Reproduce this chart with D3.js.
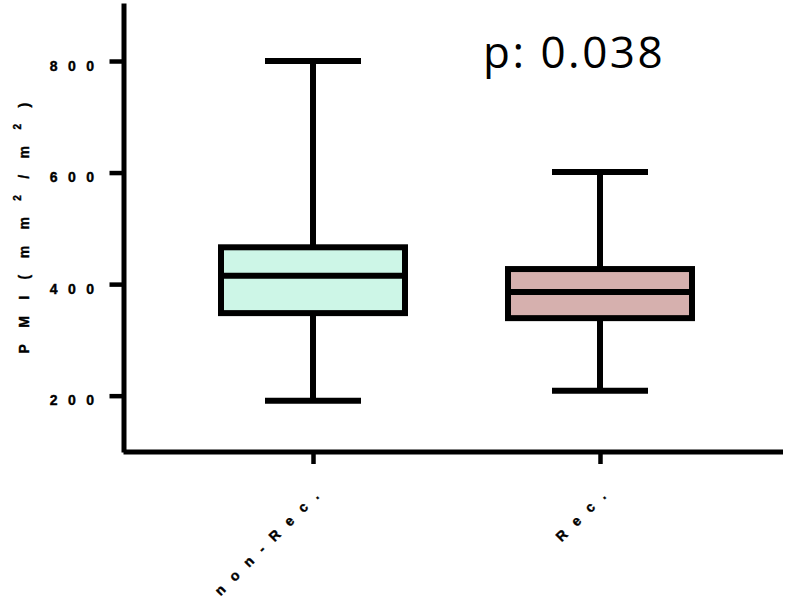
<!DOCTYPE html>
<html>
<head>
<meta charset="utf-8">
<script src="https://cdn.jsdelivr.net/npm/d3@7"></script>
<style>
  body { margin: 0; background: #fff; }
  svg { display: block; }
</style>
</head>
<body>
<div id="chart"></div>
<script>
// data
const groups = ["non-Rec.", "Rec."];
const mins = [191, 209];
const q1s = [348, 339];
const medians = [415, 386];
const q3s = [466, 427];
const maxs = [800, 601];
const fills = ["#cdf6e7", "#d6b0ae"];
const yTicks = [200, 400, 600, 800];
const pText = "p: 0.038";

let width = 797,
	height = 598;

let svg = d3.select("#chart").append("svg")
	.attr("width", width)
	.attr("height", height);

let yScale = d3.scaleLinear()
	.domain([99, 904])
	.range([452, 3]);

// category centres
let xScale = d3.scalePoint()
	.domain(groups)
	.range([313, 600]);

let axisX = 123.5, axisY = 452, axisEnd = 783;
let labelFont = "Liberation Sans, Arial, sans-serif";

// bold, widely spaced labels like the original export
function labelStyle(sel, spacing) {
	sel.attr("fill", "#000")
		.attr("stroke", "#000")
		.attr("stroke-width", 0.4)
		.style("font-family", labelFont)
		.style("font-weight", "bold")
		.style("font-size", "14px")
		.style("letter-spacing", spacing + "px");
}

// y axis
let yAxis = d3.axisLeft(yScale)
	.tickValues(yTicks)
	.tickSize(14)
	.tickSizeOuter(0)
	.tickPadding(5);

let gy = svg.append("g")
	.attr("transform", "translate(" + axisX + ",0)")
	.call(yAxis);
gy.select(".domain").attr("stroke", "#000").attr("stroke-width", 5);
gy.selectAll(".tick line").attr("stroke", "#000").attr("stroke-width", 4.5);
gy.selectAll(".tick text")
	.attr("dy", "0.66em")
	.call(labelStyle, 10.5);

// x axis
let xAxis = d3.axisBottom(xScale)
	.tickSize(12)
	.tickSizeOuter(0)
	.tickFormat("");

let gx = svg.append("g")
	.attr("transform", "translate(0," + axisY + ")")
	.call(xAxis);
gx.select(".domain").remove();
gx.append("line")
	.attr("x1", axisX).attr("x2", axisEnd)
	.attr("stroke", "#000").attr("stroke-width", 5);
gx.selectAll(".tick line").attr("stroke", "#000").attr("stroke-width", 4.5);

// rotated category labels
svg.selectAll(".xlab")
	.data(groups)
	.enter()
	.append("text")
	.attr("class", "xlab")
	.attr("transform", d => "translate(" + (xScale(d) + 15) + "," + 489 + ") rotate(-45)")
	.attr("text-anchor", "end")
	.call(labelStyle, 11.5)
	.text(d => d);

// y axis title with superscripts
let ylab = svg.append("text")
	.attr("transform", "translate(29,220) rotate(-90)")
	.attr("text-anchor", "middle")
	.call(labelStyle, 16.4);
ylab.append("tspan").text("PMI(mm");
ylab.append("tspan").attr("dy", -8).style("font-size", "10px").text("2");
ylab.append("tspan").attr("dy", 8).text("/m");
ylab.append("tspan").attr("dy", -8).style("font-size", "10px").text("2");
ylab.append("tspan").attr("dy", 8).text(")");

// box plots
let boxW = 184, capW = 96, sw = 6;
let boxes = svg.selectAll(".box")
	.data(groups)
	.enter()
	.append("g")
	.attr("class", "box");

boxes.append("line")
	.attr("x1", d => xScale(d)).attr("x2", d => xScale(d))
	.attr("y1", (d, i) => yScale(maxs[i]))
	.attr("y2", (d, i) => yScale(mins[i]))
	.attr("stroke", "#000").attr("stroke-width", sw);

boxes.append("line")
	.attr("x1", d => xScale(d) - capW / 2).attr("x2", d => xScale(d) + capW / 2)
	.attr("y1", (d, i) => yScale(maxs[i])).attr("y2", (d, i) => yScale(maxs[i]))
	.attr("stroke", "#000").attr("stroke-width", sw);

boxes.append("line")
	.attr("x1", d => xScale(d) - capW / 2).attr("x2", d => xScale(d) + capW / 2)
	.attr("y1", (d, i) => yScale(mins[i])).attr("y2", (d, i) => yScale(mins[i]))
	.attr("stroke", "#000").attr("stroke-width", sw);

boxes.append("rect")
	.attr("x", d => xScale(d) - boxW / 2)
	.attr("width", boxW)
	.attr("y", (d, i) => yScale(q3s[i]))
	.attr("height", (d, i) => yScale(q1s[i]) - yScale(q3s[i]))
	.attr("fill", (d, i) => fills[i])
	.attr("stroke", "#000").attr("stroke-width", sw);

boxes.append("line")
	.attr("x1", d => xScale(d) - boxW / 2).attr("x2", d => xScale(d) + boxW / 2)
	.attr("y1", (d, i) => yScale(medians[i])).attr("y2", (d, i) => yScale(medians[i]))
	.attr("stroke", "#000").attr("stroke-width", sw);

// p value
svg.append("text")
	.attr("x", 483)
	.attr("y", 68)
	.style("font-family", "Open Sans, sans-serif")
	.style("font-size", "44px")
	.style("letter-spacing", "2.5px")
	.attr("fill", "#000")
	.text(pText);
</script>
</body>
</html>
